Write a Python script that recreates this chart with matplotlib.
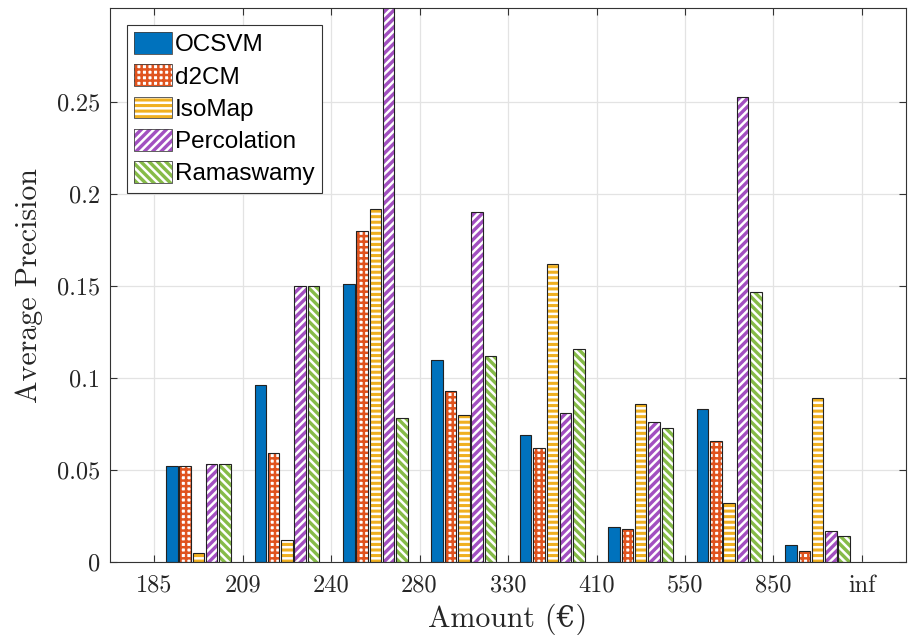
import numpy as np
import matplotlib
matplotlib.use("Agg")
import matplotlib.pyplot as plt
from matplotlib.patches import Patch
from matplotlib.legend_handler import HandlerTuple

# bin edges on the amount axis, bars sit between them
edges = ["185", "209", "240", "280", "330", "410", "550", "850", "inf"]
methods = ["OCSVM", "d2CM", "IsoMap", "Percolation", "Ramaswamy"]

ocsvm = [0.052, 0.096, 0.151, 0.110, 0.069, 0.019, 0.083, 0.009]
d2cm = [0.052, 0.059, 0.180, 0.093, 0.062, 0.018, 0.066, 0.006]
isomap = [0.005, 0.012, 0.192, 0.080, 0.162, 0.086, 0.032, 0.089]
percolation = [0.053, 0.150, 0.310, 0.190, 0.081, 0.076, 0.253, 0.017]
ramaswamy = [0.053, 0.150, 0.078, 0.112, 0.116, 0.073, 0.147, 0.014]

series = [ocsvm, d2cm, isomap, percolation, ramaswamy]
# (face, hatch colour, hatch)
styles = [("#0072BD", "#0072BD", None),
          ("white", "#E0531E", "+++"),
          ("#F0B020", "white", "---"),
          ("#A24FC0", "white", "////"),
          ("#86BB48", "white", "\\\\\\\\")]

plt.rcParams["hatch.linewidth"] = 1.8
serif = ["cmr10", "DejaVu Serif"]

fig = plt.figure(figsize=(9.08, 6.35), dpi=100)
ax = fig.add_axes([0.121, 0.115, 0.877, 0.872])

n = len(ocsvm)
centers = np.arange(n) + 0.5
step = 0.15
width = 0.13

handles = []
for k, (vals, (fc, hc, h)) in enumerate(zip(series, styles)):
    x = centers + (k - 2) * step
    # fill + hatch, then a dark outline on top
    ax.bar(x, vals, width, facecolor=fc, edgecolor=hc, hatch=h,
           linewidth=0, zorder=2)
    ax.bar(x, vals, width, facecolor="none", edgecolor="#222222",
           linewidth=0.8, zorder=3)
    p1 = Patch(facecolor=fc, edgecolor=hc, hatch=h, linewidth=0)
    p2 = Patch(facecolor="none", edgecolor="#444444", linewidth=0.6)
    handles.append((p1, p2))

ax.set_xlim(-0.5, n + 0.5)
ax.set_ylim(0, 0.301)
ax.set_xticks(np.arange(len(edges)))
ax.set_xticklabels(edges, family=serif, fontsize=17.5)
yt = [0, 0.05, 0.1, 0.15, 0.2, 0.25]
ax.set_yticks(yt)
ax.set_yticklabels(["0", "0.05", "0.1", "0.15", "0.2", "0.25"], family=serif, fontsize=17.5)

ax.grid(True, color="#e3e3e3", linewidth=0.9, zorder=0)
ax.set_axisbelow(True)
ax.tick_params(direction="in", length=5, color="#333333", top=True, right=True,
               labelcolor="#262626")
ax.tick_params(axis="y", pad=7)
ax.tick_params(axis="x", pad=9)
for s in ax.spines.values():
    s.set_color("#333333")
    s.set_linewidth(0.8)

ax.set_ylabel("Average Precision", family=serif, fontsize=21.5, color="#262626", labelpad=10)
ax.set_xlabel("Amount (€)", family=serif, fontsize=21.5, color="#262626", labelpad=5)

leg = ax.legend(handles, methods, handler_map={tuple: HandlerTuple(ndivide=1)},
                loc="upper left", bbox_to_anchor=(0.021, 0.97),
                prop={"family": "Liberation Sans", "size": 17.5},
                handlelength=1.55, handleheight=1.0, handletextpad=0.15,
                labelspacing=0.33, borderpad=0.3, borderaxespad=0,
                fancybox=False, edgecolor="#333333", framealpha=1)
leg.get_frame().set_linewidth(0.8)

fig.savefig("out.png", dpi=100)
